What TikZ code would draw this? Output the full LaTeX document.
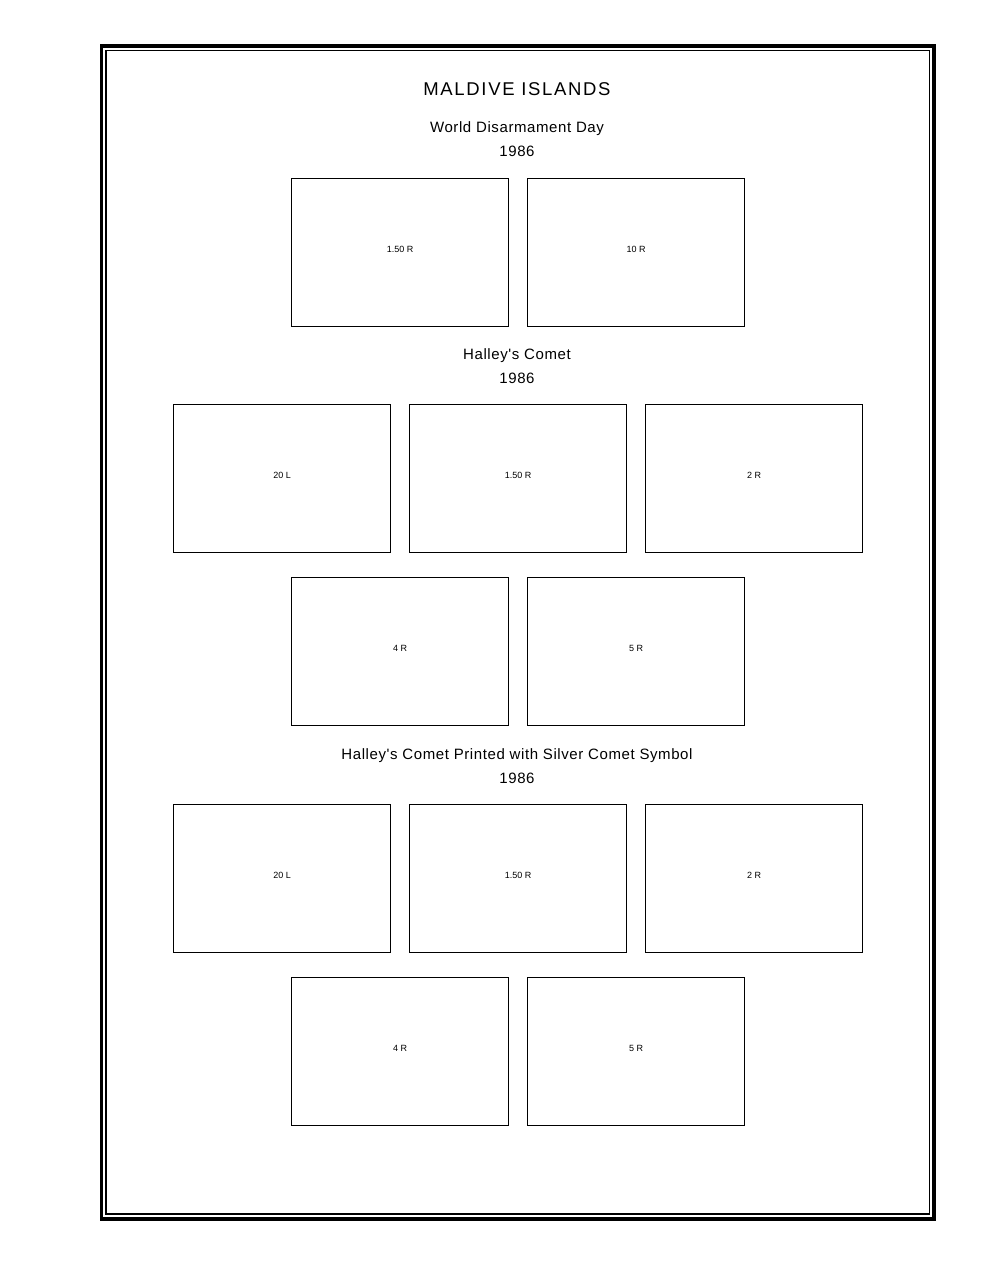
\documentclass[tikz,border=0pt]{standalone}
\usepackage{fontspec}
\setmainfont{Liberation Sans}
\newfontfamily\titlefont[LetterSpace=9]{Liberation Sans}
\newfontfamily\headfont[LetterSpace=4]{Liberation Sans}
\newfontfamily\labfont[LetterSpace=0]{Liberation Sans}
\begin{document}
\begin{tikzpicture}[x=1pt,y=-1pt,
  stampbox/.style={draw=black,line width=1.4pt,minimum width=217pt,minimum height=148pt,inner sep=0pt,anchor=north west},
  stamplabel/.style={font=\labfont\fontsize{9}{11}\selectfont,inner sep=0pt},
  titletext/.style={font=\titlefont\fontsize{18.5}{21}\selectfont,inner sep=0pt},
  headtext/.style={font=\headfont\fontsize{15}{18}\selectfont,inner sep=0pt}]
\useasboundingbox (0,0) rectangle (980,1268);
\fill[white] (0,0) rectangle (980,1268);
% page border
\draw[line width=3.5pt] (101.5,46) rectangle (934,1219);
\draw[line width=1.3pt] (106,50.5) rectangle (929.5,1214);
% titles
\node[titletext] (title) at (517,89.5) {MALDIVE ISLANDS};
\node[headtext] (h1) at (517,129) {World Disarmament Day};
\node[headtext] (y1) at (517,151) {1986};
\node[headtext] (h2) at (517,356) {Halley's Comet};
\node[headtext] (y2) at (517,378) {1986};
\node[headtext] (h3) at (517,756) {Halley's Comet Printed with Silver Comet Symbol};
\node[headtext] (y3) at (517,778) {1986};
% row 1
\node[stampbox] (a1) at (291,178) {};
\node[stampbox] (a2) at (527,178) {};
\node[stamplabel] (la1) at ([yshift=3pt]a1.center) {1.50 R};
\node[stamplabel] (la2) at ([yshift=3pt]a2.center) {10 R};
% row 2
\node[stampbox] (b1) at (173,404) {};
\node[stampbox] (b2) at (409,404) {};
\node[stampbox] (b3) at (645,404) {};
\node[stamplabel] (lb1) at ([yshift=3pt]b1.center) {20 L};
\node[stamplabel] (lb2) at ([yshift=3pt]b2.center) {1.50 R};
\node[stamplabel] (lb3) at ([yshift=3pt]b3.center) {2 R};
% row 3
\node[stampbox] (c1) at (291,577) {};
\node[stampbox] (c2) at (527,577) {};
\node[stamplabel] (lc1) at ([yshift=3pt]c1.center) {4 R};
\node[stamplabel] (lc2) at ([yshift=3pt]c2.center) {5 R};
% row 4
\node[stampbox] (d1) at (173,803.5) {};
\node[stampbox] (d2) at (409,803.5) {};
\node[stampbox] (d3) at (645,803.5) {};
\node[stamplabel] (ld1) at ([yshift=3pt]d1.center) {20 L};
\node[stamplabel] (ld2) at ([yshift=3pt]d2.center) {1.50 R};
\node[stamplabel] (ld3) at ([yshift=3pt]d3.center) {2 R};
% row 5
\node[stampbox] (e1) at (291,976.5) {};
\node[stampbox] (e2) at (527,976.5) {};
\node[stamplabel] (le1) at ([yshift=3pt]e1.center) {4 R};
\node[stamplabel] (le2) at ([yshift=3pt]e2.center) {5 R};
\end{tikzpicture}
\end{document}
